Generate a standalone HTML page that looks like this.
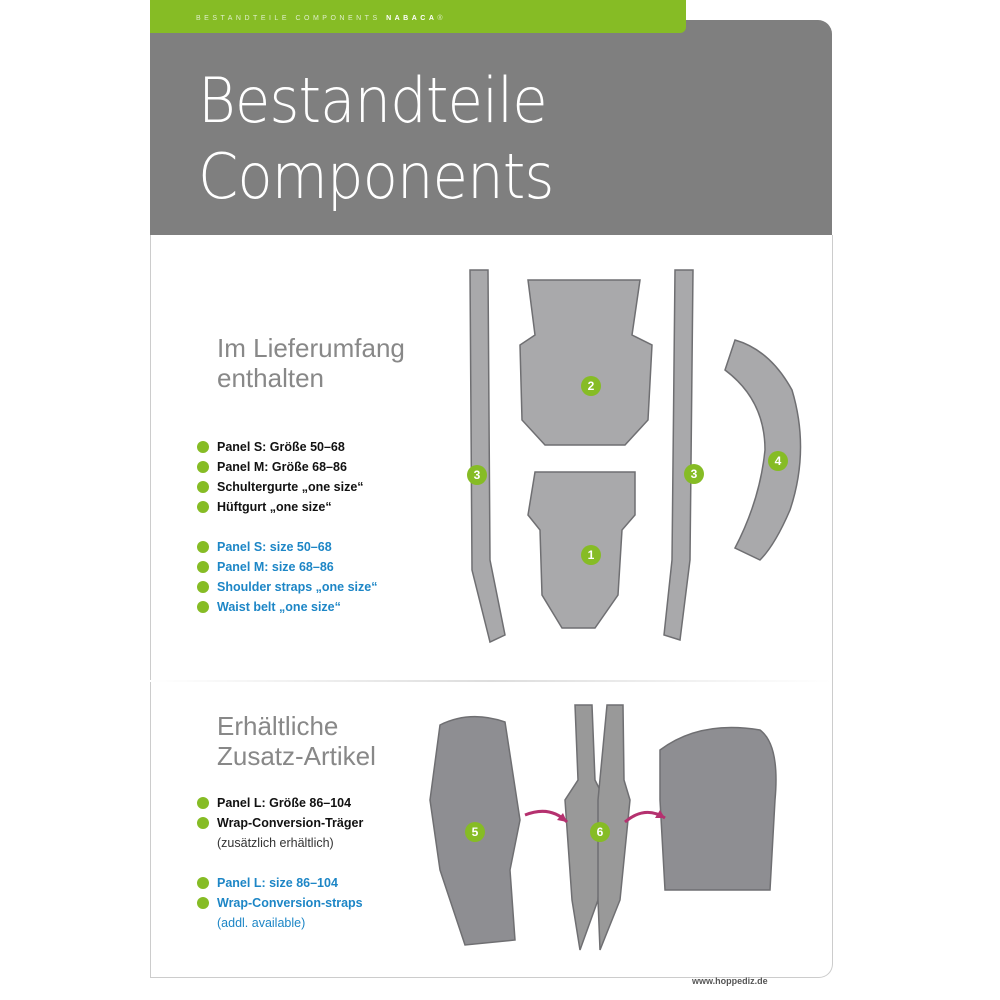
<!DOCTYPE html>
<html><head><meta charset="utf-8"><style>
body{margin:0;width:1000px;height:1000px;background:#fff;position:relative;overflow:hidden;font-family:"Liberation Sans",sans-serif}
.a{position:absolute}
.g{position:absolute;left:150px;top:0;width:536px;height:33px;background:#86bc25;border-radius:0 0 6px 0;z-index:2}
.gt{position:absolute;left:196px;top:15px;font-size:7px;letter-spacing:3.5px;color:#dfeecb;z-index:3}
.box{position:absolute;left:150px;top:20px;width:682px;height:215px;background:#7f7f7f;border-radius:0 14px 0 0}
.t{position:absolute;left:198px;color:#fff;font-size:62px;font-weight:100;font-family:"DejaVu Sans","Liberation Sans",sans-serif;letter-spacing:-1px;transform:scaleX(0.93);transform-origin:left}
.frame{position:absolute;left:150px;top:235px;width:681px;height:742px;border-left:1px solid #ccc;border-right:1px solid #ccc;border-bottom:1px solid #ccc;border-radius:0 0 14px 0}
.h{position:absolute;font-size:26px;color:#888;font-weight:300;line-height:30px}
.l{position:absolute;font-size:12.5px;font-weight:bold;line-height:20px}
.l div{position:relative;padding-left:20px;min-height:20px}
.l div.d:before{content:"";position:absolute;left:0;top:4px;width:12px;height:12px;border-radius:50%;background:#86bc25}
.k{color:#111}.b{color:#1d86c6}
.n{position:absolute;width:20px;height:20px;border-radius:50%;background:#86bc25;color:#fff;font-size:12px;font-weight:bold;text-align:center;line-height:20px}
</style></head><body>
<div class="g"></div>
<div class="box"></div>
<div class="gt">BESTANDTEILE COMPONENTS <b style="color:#fff">NABACA</b>®</div>
<div class="t" style="top:64px">Bestandteile</div>
<div class="t" style="top:140px">Components</div>
<div class="frame"></div>
<div class="a" style="left:150px;top:680px;width:682px;height:2px;background:linear-gradient(90deg,#fff,#ddd,#fff)"></div>
<div class="h" style="left:217px;top:333px">Im Lieferumfang<br>enthalten</div>
<div class="l" style="left:197px;top:437px">
<div class="d k">Panel S: Größe 50–68</div><div class="d k">Panel M: Größe 68–86</div><div class="d k">Schultergurte „one size“</div><div class="d k">Hüftgurt „one size“</div>
<div></div>
<div class="d b">Panel S: size 50–68</div><div class="d b">Panel M: size 68–86</div><div class="d b">Shoulder straps „one size“</div><div class="d b">Waist belt „one size“</div>
</div>
<div class="h" style="left:217px;top:711px">Erhältliche<br>Zusatz-Artikel</div>
<div class="l" style="left:197px;top:793px">
<div class="d k">Panel L: Größe 86–104</div><div class="d k">Wrap-Conversion-Träger</div><div style="font-weight:normal;color:#333">(zusätzlich erhältlich)</div>
<div></div>
<div class="d b">Panel L: size 86–104</div><div class="d b">Wrap-Conversion-straps</div><div style="font-weight:normal;color:#1d86c6">(addl. available)</div>
</div>
<svg class="a" style="left:0;top:0" width="1000" height="1000">
<g fill="#a9a9ab" stroke="#6f6f72" stroke-width="1.5">
<path d="M470 270 L488 270 L490 560 L505 635 L490 642 L472 570 Z"/>
<path d="M675 270 L693 270 L690 560 L680 640 L664 635 L672 560 Z"/>
<path d="M528 280 L640 280 L632 335 L652 345 L648 420 L625 445 L545 445 L522 420 L520 345 L535 335 Z"/>
<path d="M535 472 L635 472 L635 515 L622 530 L618 595 L595 628 L562 628 L542 595 L540 530 L528 515 Z"/>
<path d="M735 340 Q770 350 792 390 Q810 450 790 510 Q775 545 760 560 L735 548 Q760 500 765 450 Q765 400 725 370 Z"/>
<path d="M440 725 Q470 710 505 722 L520 820 L510 870 L515 940 L465 945 L440 870 L430 800 Z" fill="#8e8e92"/>
<path d="M575 705 L592 705 L595 780 L605 800 L598 900 L580 950 L572 900 L565 800 L578 780 Z" fill="#999"/>
<path d="M607 705 L623 705 L624 780 L630 800 L620 900 L600 950 L598 900 L598 800 Z" fill="#999"/>
<path d="M660 750 Q700 720 760 730 Q780 745 775 800 L770 890 L665 890 L660 800 Z" fill="#8e8e92"/>
</g>
<path d="M525 815 Q550 805 567 822" stroke="#b5316f" stroke-width="3" fill="none"/>
<path d="M567 822 l-10 -2 l6 -7 z" fill="#b5316f"/>
<path d="M625 822 Q645 805 665 818" stroke="#b5316f" stroke-width="3" fill="none"/>
<path d="M665 818 l-10 0 l5 -8 z" fill="#b5316f"/>
</svg>
<div class="n" style="left:581px;top:376px">2</div>
<div class="n" style="left:581px;top:545px">1</div>
<div class="n" style="left:467px;top:465px">3</div>
<div class="n" style="left:684px;top:464px">3</div>
<div class="n" style="left:768px;top:451px">4</div>
<div class="n" style="left:465px;top:822px">5</div>
<div class="n" style="left:590px;top:822px">6</div>
<div class="a" style="left:692px;top:976px;font-size:9px;font-weight:bold;color:#555">www.hoppediz.de</div>
</body></html>
